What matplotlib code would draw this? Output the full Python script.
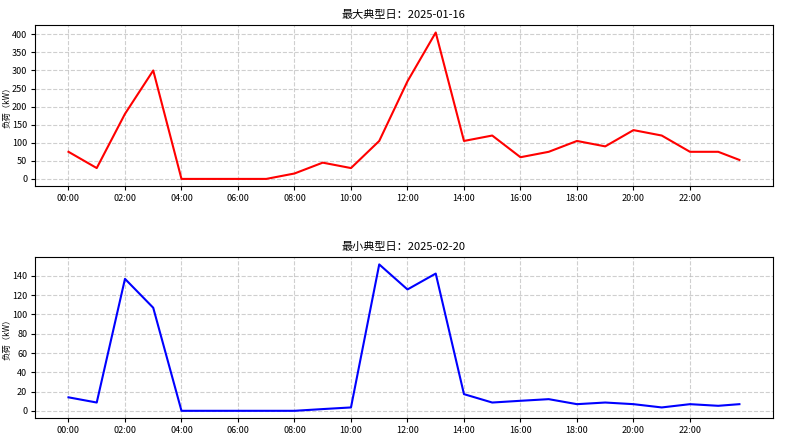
import matplotlib
matplotlib.use("Agg")
import matplotlib.pyplot as plt

plt.rcParams['font.family'] = ['Noto Sans CJK SC', 'DejaVu Sans']
plt.rcParams['axes.unicode_minus'] = False

# time of day (hours) shared by both typical days
hours = [0, 1, 2, 3, 4, 5, 6, 7, 8, 9, 10, 11, 12, 13, 14, 15, 16, 17,
         18, 19, 20, 21, 22, 23, 23.75]

max_title = "最大典型日：2025-01-16"
max_load = [75, 30, 180, 300, 0, 0, 0, 0, 15, 45, 30, 105, 270, 405,
            105, 120, 60, 75, 105, 90, 135, 120, 75, 75, 52.5]
max_yticks = list(range(0, 401, 50))

min_title = "最小典型日：2025-02-20"
min_load = [14, 8.6, 137, 107, 0, 0, 0, 0, 0, 1.8, 3.5, 152, 126, 142.5,
            17.3, 8.6, 10.4, 12.1, 6.9, 8.6, 6.9, 3.5, 6.9, 5.2, 6.9]
min_yticks = list(range(0, 141, 20))

tick_hours = list(range(0, 24, 2))
tick_labels = [f"{h:02d}:00" for h in tick_hours]

ylabel = "负荷（kW）"

fig, axes = plt.subplots(2, 1, figsize=(7.94, 4.42), dpi=100)
fig.subplots_adjust(left=0.044, right=0.9735, top=0.943, bottom=0.054, hspace=0.44)

for ax, title, load, yticks, color in [(axes[0], max_title, max_load, max_yticks, "red"),
                                       (axes[1], min_title, min_load, min_yticks, "blue")]:
    ax.plot(hours, load, color=color, linewidth=1.5)
    ax.set_title(title, fontsize=8, pad=5)
    ax.set_ylabel(ylabel, fontsize=6)
    ax.yaxis.set_label_coords(-0.032, 0.5)
    ax.set_xticks(tick_hours)
    ax.set_xticklabels(tick_labels)
    ax.set_yticks(yticks)
    ax.tick_params(labelsize=6.5, length=3, pad=2.5)
    ax.grid(True, linestyle="--", color="#bbbbbb", alpha=0.7, linewidth=0.8)

fig.savefig("out.png", dpi=100)
